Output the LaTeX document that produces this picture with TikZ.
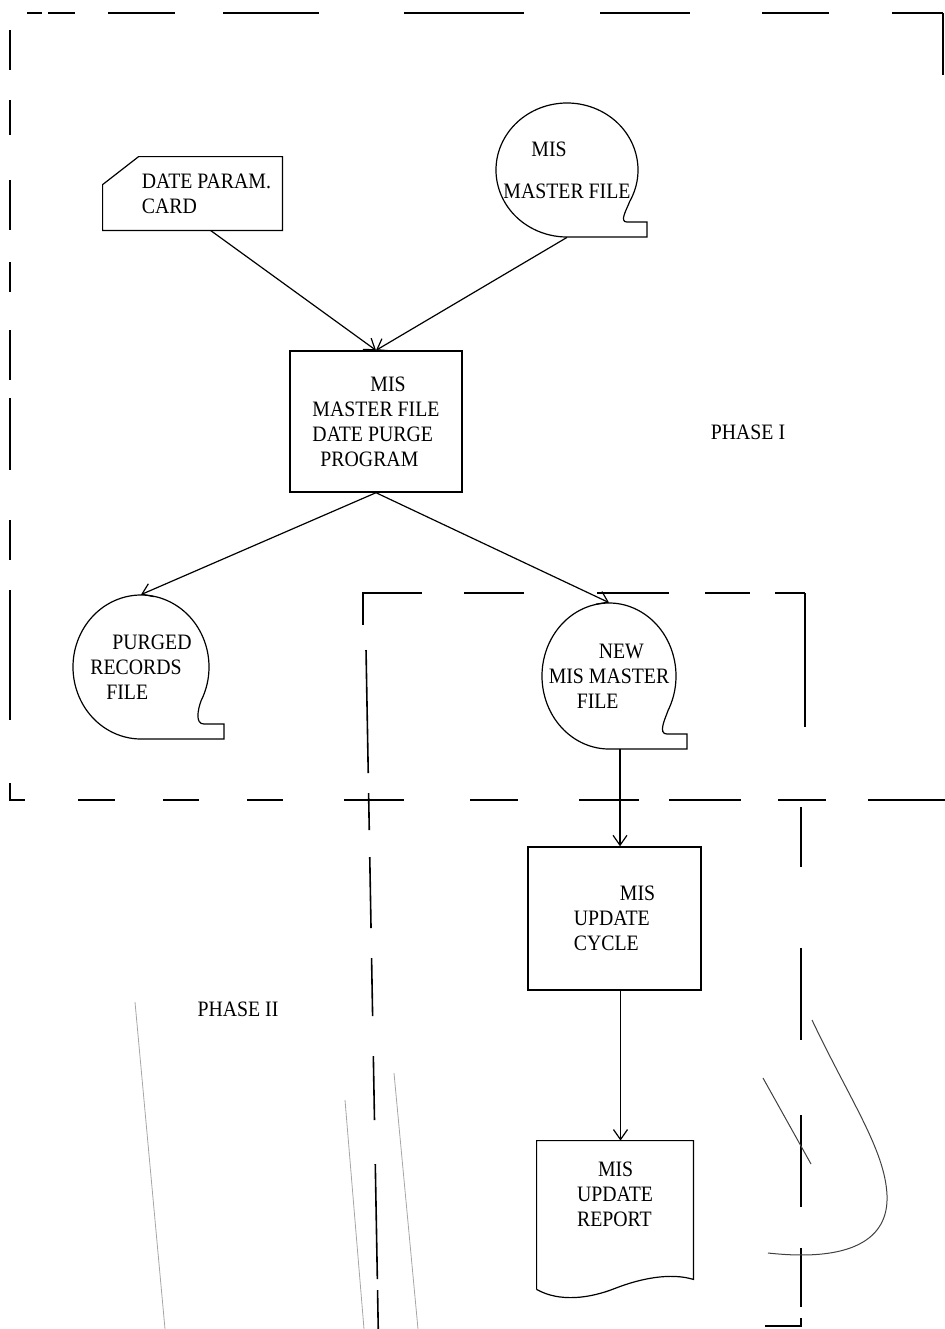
\documentclass[tikz,border=0pt]{standalone}
\usepackage{fontspec}
\setmainfont[FakeStretch=0.9]{Liberation Serif}
\usetikzlibrary{calc,arrows.meta}
\newcommand{\fnt}{\fontsize{11}{12.5}\selectfont}
\tikzset{
  ln/.style={line width=0.6pt},
  ar/.style={-{Straight Barb[length=5pt,width=7pt]},line width=0.6pt},
  bx/.style={draw,line width=0.7pt,inner sep=1pt,align=left,font=\fnt},
  tp/.style={inner sep=1pt,align=left,font=\fnt},
  bnd/.style={line width=0.8pt},
  mk/.style={line width=0.5pt,black!75}
}
% tape outline round a node: node, x radius, y radius, tail
\newcommand{\tapeout}[4]{%
  \draw[ln] ($(#1.center)+(-28:#2 and #3)$) coordinate (#1-a)
    arc[start angle=-28,end angle=270,x radius=#2,y radius=#3]
    -- ++(#2+#4,0) -- ++(0,15) -- ++(-20,0) to[out=180,in=-110] (#1-a);}

\begin{document}
\begin{tikzpicture}[x=0.5pt,y=0.5pt]
\useasboundingbox (0,0) rectangle (945,-1329);
% phase I frame
\foreach \a/\b in {27/42,48/75,108/175,223/319,404/524,600/690,762/829,892/943}
  \draw[bnd] (\a,-13) -- (\b,-13);
\draw[bnd] (943,-13) -- (943,-75);
\foreach \a/\b in {30/70,100/135,180/230,262/292,330/380,398/470,520/560,590/720}
  \draw[bnd] (10,-\a) -- (10,-\b);
\draw[bnd] (10,-783) -- (10,-800) -- (25,-800);
\foreach \a/\b in {78/115,163/199,247/283,344/404,470/518,579/639,669/741,778/826,868/945}
  \draw[bnd] (\a,-800) -- (\b,-800);
% phase II frame
\draw[bnd] (363,-625) -- (363,-593) -- (422,-593);
\foreach \a/\b in {464/524,597/669,705/750,775/805}
  \draw[bnd] (\a,-593) -- (\b,-593);
\draw[bnd] (805,-593) -- (805,-727);
\foreach \a/\b in {650/773,793/830,857/928,958/1016,1056/1120,1164/1279,1290/1329}
  \draw[bnd] ({365+(\a-593)*0.018},-\a) -- ({365+(\b-593)*0.018},-\b);
\foreach \a/\b in {807/867,948/1040,1115/1207,1248/1307}
  \draw[bnd] (801,-\a) -- (801,-\b);
\draw[bnd] (801,-1318) -- (801,-1326) -- (765,-1326);
% pen marks
\draw[mk] (812,-1020) .. controls (850,-1100) and (885,-1150) .. (887,-1195)
  .. controls (889,-1240) and (850,-1262) .. (768,-1253);
\draw[mk] (763,-1078) -- (811,-1164);
\draw[mk,black!35,line width=0.4pt] (135,-1002) -- (165,-1329);
\draw[mk,black!35,line width=0.4pt] (345,-1100) -- (364,-1329);
\draw[mk,black!35,line width=0.4pt] (394,-1073) -- (418,-1329);

% nodes
\node[tp,minimum width=89.5pt,minimum height=36.5pt] (card) at (192.5,-193.5)
  {\hspace*{14pt}DATE PARAM.\\\hspace*{14pt}CARD};
\draw[ln] ($(card.north west)+(36,0)$) -- (card.north east) -- (card.south east)
  -- (card.south west) -- ($(card.north west)+(0,-28)$) -- cycle;
\node[tp,minimum width=71pt,minimum height=67pt] (mtape) at (567,-170) {\hspace*{14pt}MIS\\[8.5pt]MASTER FILE};
\tapeout{mtape}{71}{67}{9}
\node[bx,minimum width=86pt,minimum height=70.5pt] (purge) at (376,-421.5)
  {\hspace*{29pt}MIS\\MASTER FILE\\DATE PURGE\\\hspace*{4pt}PROGRAM};
\node[tp,minimum width=68pt,minimum height=72pt] (purged) at (141,-667)
  {\hspace*{11pt}PURGED\\RECORDS\\\hspace*{8pt}FILE};
\tapeout{purged}{68}{72}{15}
\node[tp,minimum width=67pt,minimum height=73pt] (newtape) at (609,-676)
  {\hspace*{25pt}NEW\\MIS MASTER\\\hspace*{14pt}FILE};
\tapeout{newtape}{67}{73}{11}
\node[bx,minimum width=86.5pt,minimum height=71.5pt] (cycle) at (614.5,-918.5)
  {\hspace*{23pt}MIS\\UPDATE\\CYCLE};
\node[tp,minimum width=78pt,minimum height=74pt] (report) at (615,-1215)
  {\hspace*{10.5pt}MIS\\UPDATE\\REPORT\\[8pt]\mbox{}};
\draw[ln] (report.south west) -- (report.north west) -- (report.north east)
  -- ($(report.south east)+(0,10)$)
  .. controls ($(report.south east)+(-23,17)$) and ($(report.south east)+(-53,11)$) .. ($(report.south)+(0,1)$)
  .. controls ($(report.south west)+(53,-9)$) and ($(report.south west)+(23,-13)$) .. (report.south west);
\node[font=\fnt] (phasei) at (748,-432) {PHASE I};
\node[font=\fnt] (phaseii) at (238,-1009) {PHASE II};

% flow
\draw[ar] ([xshift=9pt]card.south) -- (purge.north);
\draw[ar] (mtape.south) -- (purge.north);
\draw[ar] (purge.south) -- (purged.north);
\draw[ar] (purge.south) -- (newtape.north);
\draw[ar] ([xshift=5.5pt]newtape.south) -- ([xshift=5.5pt]newtape.south |- cycle.north);
\draw[ar] ([xshift=3pt]cycle.south) -- ([xshift=3pt]cycle.south |- report.north);
\end{tikzpicture}
\end{document}
